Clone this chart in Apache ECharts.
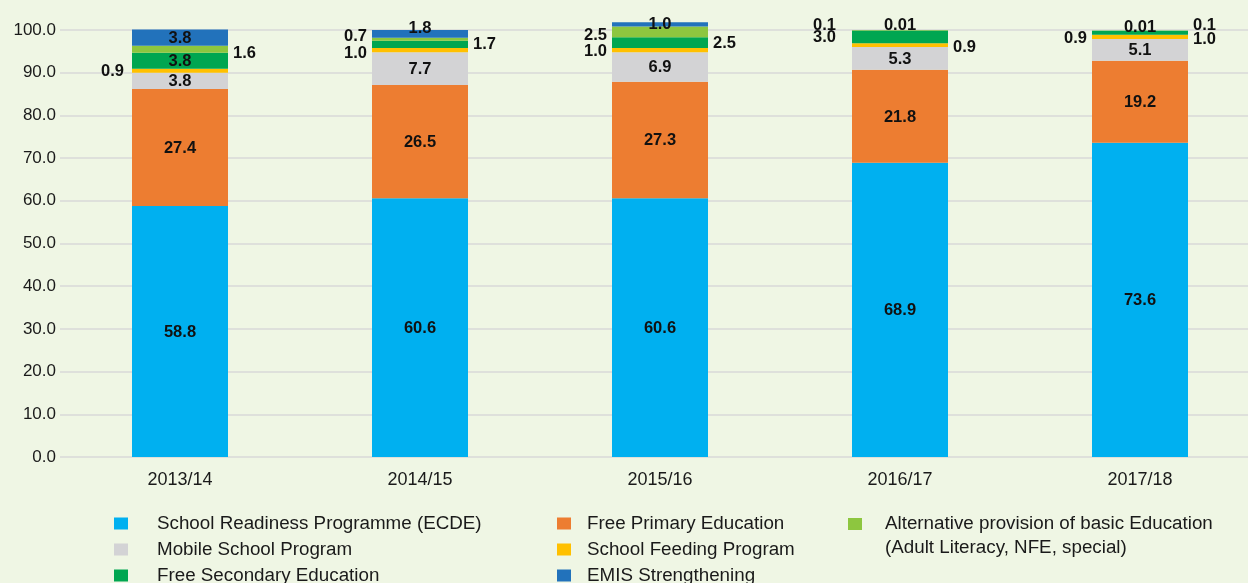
<!DOCTYPE html>
<html>
<head>
<meta charset="utf-8">
<script src="https://cdn.jsdelivr.net/npm/echarts@6/dist/echarts.min.js"></script>
<style>
  html, body { margin: 0; padding: 0; background: #eff6e4; }
  #main { width: 1248px; height: 583px; }
</style>
</head>
<body>
<div id="main"></div>
<script>
// data
var categories = ['2013/14', '2014/15', '2015/16', '2016/17', '2017/18'];
var names = [
  'School Readiness Programme (ECDE)',
  'Free Primary Education',
  'Mobile School Program',
  'School Feeding Program',
  'Free Secondary Education',
  'Alternative provision of basic Education (Adult Literacy, NFE, special)',
  'EMIS Strengthening'
];
var ecde = [58.8, 60.6, 60.6, 68.9, 73.6];
var primary = [27.4, 26.5, 27.3, 21.8, 19.2];
var mobile = [3.8, 7.7, 6.9, 5.3, 5.1];
var feeding = [0.9, 1.0, 1.0, 0.9, 1.0];
var secondary = [3.8, 1.7, 2.5, 3.0, 0.9];
var alternative = [1.6, 0.7, 2.5, 0.1, 0.1];
var emis = [3.8, 1.8, 1.0, 0.01, 0.01];

var values = [ecde, primary, mobile, feeding, secondary, alternative, emis];
var colors = ['#00b0f0', '#ed7d31', '#d3d3d5', '#ffc000', '#00a651', '#8dc63f', '#2272bb'];

// where each value label sits: [position, dx, dy]
var inside = ['inside', 0, 1];
var labelLayout = [
  [inside, inside, inside, inside, inside],
  [inside, inside, inside, inside, inside],
  [inside, inside, inside, inside, inside],
  [['left', -3, 1], ['left', 0, 3], ['left', 0, 1], ['right', 0, 2], ['right', 0, 3]],
  [inside, ['right', 0, 0], ['right', 0, 1], ['left', -11, 1], ['left', 0, 6]],
  [['right', 0, 4], ['left', 0, -3], ['left', 0, 4], ['left', -11, -5], ['right', 0, -5]],
  [inside, ['top', 0, 12], ['top', 0, 16], ['top', 0, 9], ['top', 0, 11]]
];

function fmt(v) {
  return v < 0.1 ? v.toFixed(2) : v.toFixed(1);
}

var series = names.map(function(name, si) {
  return {
    name: name,
    type: 'bar',
    stack: 'total',
    barWidth: 96,
    clip: false,
    itemStyle: { color: colors[si] },
    data: values[si].map(function(v, ci) {
      var lay = labelLayout[si][ci];
      return {
        value: v,
        label: {
          show: true,
          position: lay[0],
          offset: [lay[1], lay[2]],
          distance: 5,
          formatter: fmt(v),
          color: '#111',
          fontWeight: 'bold',
          fontSize: 16.5,
          fontFamily: 'Liberation Sans, Arial, sans-serif'
        }
      };
    })
  };
});

function legendText(gap) {
  return {
    color: '#1a1a1a',
    fontSize: 18.8,
    fontFamily: 'Liberation Sans, Arial, sans-serif',
    lineHeight: 18,
    padding: [0, 0, 0, gap]
  };
}

var myChart = echarts.init(document.getElementById('main'));
var option = {
  backgroundColor: '#eff6e4',
  animation: false,
  grid: { left: 60, top: 30, width: 1200, height: 427, outerBoundsMode: 'none' },
  legend: [
    {
      orient: 'vertical', left: 109, top: 509, height: 100,
      itemWidth: 14, itemHeight: 12, itemGap: 7,
      icon: 'rect',
      data: [names[0], names[2], names[4]],
      textStyle: legendText(24)
    },
    {
      orient: 'vertical', left: 552, top: 509, height: 100,
      itemWidth: 14, itemHeight: 12, itemGap: 7,
      icon: 'rect',
      data: [names[1], names[3], names[6]],
      textStyle: legendText(11)
    },
    {
      orient: 'vertical', left: 843, top: 483, height: 100,
      itemWidth: 14, itemHeight: 12,
      icon: 'rect',
      data: [names[5]],
      formatter: function() {
        return ' \nAlternative provision of basic Education\n(Adult Literacy, NFE, special)';
      },
      textStyle: {
        color: '#1a1a1a',
        fontSize: 18.8,
        fontFamily: 'Liberation Sans, Arial, sans-serif',
        lineHeight: 24,
        padding: [0, 0, 0, 18]
      }
    }
  ],
  xAxis: {
    type: 'category',
    data: categories,
    axisLine: { show: false },
    axisTick: { show: false },
    axisLabel: {
      margin: 14,
      color: '#1a1a1a',
      fontSize: 18,
      fontFamily: 'Liberation Sans, Arial, sans-serif'
    }
  },
  yAxis: {
    type: 'value',
    min: 0,
    max: 100,
    interval: 10,
    axisLine: { show: false },
    axisTick: { show: false },
    splitLine: { lineStyle: { color: '#d8d8d8', width: 1.5 } },
    axisLabel: {
      margin: 4,
      color: '#1a1a1a',
      fontSize: 17,
      fontFamily: 'Liberation Sans, Arial, sans-serif',
      formatter: function(v) { return v.toFixed(1); }
    }
  },
  series: series
};
myChart.setOption(option);
</script>
</body>
</html>
